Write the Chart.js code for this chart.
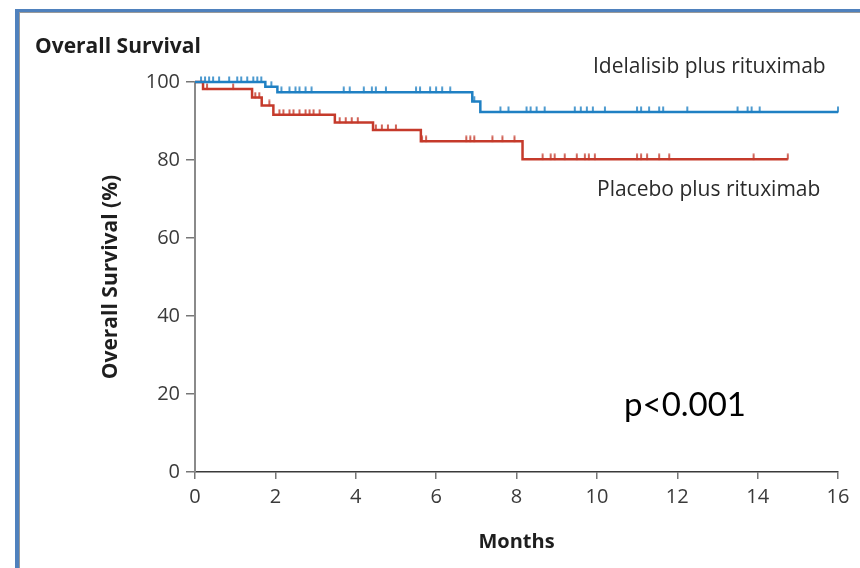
<!DOCTYPE html>
<html><head><meta charset="utf-8">
<script src="https://cdn.jsdelivr.net/npm/chart.js@4.4.1/dist/chart.umd.min.js"></script>
<style>
html,body{margin:0;padding:0;background:#fff;width:860px;height:568px;overflow:hidden}
#frame{position:absolute;left:15px;top:9px;width:900px;height:620px;border-left:4px solid #4f81bd;border-top:3px solid #4f81bd;box-shadow:inset 1px 1px 0 #9a9a9a}
#wrap{position:absolute;left:0;top:0;width:860px;height:568px}
</style></head><body>
<div id="frame"></div>
<div id="wrap"><canvas id="c" width="860" height="568"></canvas></div>
<script>
// ---- data ----
const xTicks = [0, 2, 4, 6, 8, 10, 12, 14, 16];
const yTicks = [0, 20, 40, 60, 80, 100];
const ideTimes = [0, 1.75, 2.05, 6.9, 7.1, 16];
const ideSurv  = [100, 98.8, 97.4, 95.0, 92.3, 92.3];
const plaTimes = [0, 0.2, 1.42, 1.66, 1.95, 3.48, 4.43, 5.62, 8.15, 14.75];
const plaSurv  = [100, 98.2, 96.0, 94.0, 91.6, 89.6, 87.7, 84.8, 80.2, 80.2];
const ideCensor = [0.15, 0.25, 0.35, 0.45, 0.6, 0.85, 1.05, 1.15, 1.3, 1.45, 1.55, 1.65, 1.9,
  2.15, 2.35, 2.5, 2.6, 2.75, 2.9, 3.7, 3.85, 4.2, 4.4, 4.5, 4.75, 5.5, 5.6, 5.85, 6.0, 6.15, 6.35, 6.95,
  7.6, 7.8, 8.25, 8.35, 8.5, 8.7, 9.45, 9.6, 9.75, 9.9, 10.2, 11.0, 11.1, 11.3, 11.55, 11.65, 12.25,
  13.5, 13.75, 13.85, 14.05, 16.0];
const plaCensor = [0.3, 0.95, 1.5, 1.6, 1.85, 2.1, 2.2, 2.35, 2.45, 2.6, 2.75, 2.85, 2.95, 3.1,
  3.6, 3.75, 3.9, 4.05, 4.5, 4.65, 4.8, 5.0, 5.65, 5.75, 6.75, 6.85, 6.95, 7.4, 7.65, 7.95,
  8.65, 8.85, 8.95, 9.2, 9.5, 9.7, 9.8, 9.95, 11.0, 11.1, 11.25, 11.55, 11.8, 13.9, 14.75];
const ideLabel = 'Idelalisib plus rituximab';
const plaLabel = 'Placebo plus rituximab';

const BLUE = '#1f80c3', RED = '#c53a2b';

function survAt(times, surv, t) {
  let v = surv[0];
  for (let i = 0; i < times.length; i++) if (times[i] <= t) v = surv[i];
  return v;
}
function tickImg(color) {
  const c = document.createElement('canvas');
  c.width = 4; c.height = 12;
  const g = c.getContext('2d');
  g.strokeStyle = color; g.lineWidth = 1.6;
  g.beginPath(); g.moveTo(2, 0.5); g.lineTo(2, 6.5); g.stroke();
  return c;
}

const textPlugin = {
  id: 'texts',
  afterDraw(chart) {
    const ctx = chart.ctx;
    ctx.save();
    ctx.textBaseline = 'alphabetic';
    ctx.textAlign = 'left';
    ctx.fillStyle = '#1e1e1e';
    ctx.font = 'bold 21px "Open Sans"';
    ctx.fillText('Overall Survival', 35, 53);
    ctx.fillStyle = '#2a2a2a';
    ctx.font = '21px "Open Sans"';
    ctx.fillText(ideLabel, 593, 73);
    ctx.fillText(plaLabel, 597, 196);
    ctx.fillStyle = '#000';
    ctx.font = '33px Lato';
    ctx.fillText('p<0.001', 624, 416);
    ctx.restore();
  }
};

const tickFont = {family: '"Open Sans"', size: 20};
new Chart(document.getElementById('c'), {
  type: 'line',
  data: {
    datasets: [
      {data: ideTimes.map((t, i) => ({x: t, y: ideSurv[i]})), stepped: 'before', borderColor: BLUE, borderWidth: 2.5, pointRadius: 0, fill: false, clip: false},
      {data: plaTimes.map((t, i) => ({x: t, y: plaSurv[i]})), stepped: 'before', borderColor: RED, borderWidth: 2.5, pointRadius: 0, fill: false, clip: false},
      {type: 'scatter', data: ideCensor.map(t => ({x: t, y: survAt(ideTimes, ideSurv, t)})), pointStyle: tickImg(BLUE), pointRadius: 4, showLine: false, clip: false},
      {type: 'scatter', data: plaCensor.map(t => ({x: t, y: survAt(plaTimes, plaSurv, t)})), pointStyle: tickImg(RED), pointRadius: 4, showLine: false, clip: false}
    ]
  },
  options: {
    responsive: false, animation: false,
    layout: {padding: {top: 82, right: 22, left: 0, bottom: 0}},
    plugins: {legend: {display: false}, tooltip: {enabled: false}},
    scales: {
      x: {
        type: 'linear', min: 0, max: 16,
        afterBuildTicks: s => { s.ticks = xTicks.map(v => ({value: v})); },
        afterFit: s => { s.height = 96; },
        grid: {drawOnChartArea: false, drawTicks: true, tickLength: 7, color: '#777', lineWidth: 1.5},
        border: {display: true, color: '#3a3a3a', width: 1.5},
        ticks: {font: tickFont, color: '#3a3a3a', padding: 6, maxRotation: 0},
        title: {display: true, text: 'Months', color: '#1e1e1e', font: {family: '"Open Sans"', size: 20, weight: 'bold'}, padding: {top: 0, bottom: 14}}
      },
      y: {
        type: 'linear', min: 0, max: 100,
        afterBuildTicks: s => { s.ticks = yTicks.map(v => ({value: v})); },
        afterFit: s => { s.width = 195; },
        grid: {drawOnChartArea: false, drawTicks: true, tickLength: 9, color: '#777', lineWidth: 1.5},
        border: {display: true, color: '#8a8a8a', width: 2},
        ticks: {font: tickFont, color: '#3a3a3a', padding: 6},
        title: {display: true, text: 'Overall Survival (%)', color: '#1e1e1e', font: {family: '"Open Sans"', size: 21, weight: 'bold'}, padding: {top: 98, bottom: 0}}
      }
    }
  },
  plugins: [textPlugin]
});
</script>
</body></html>
